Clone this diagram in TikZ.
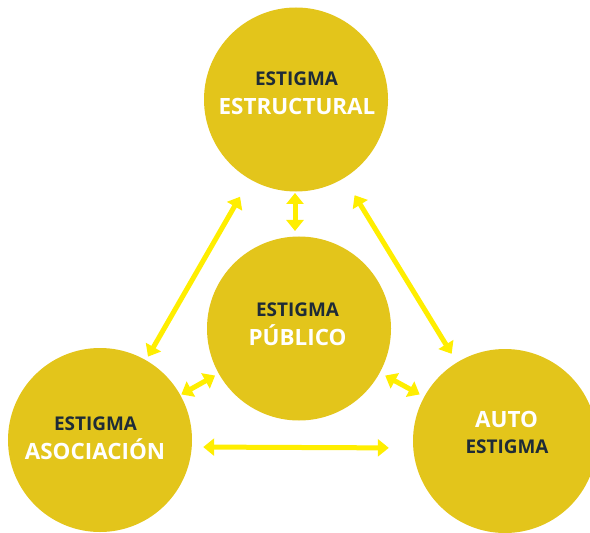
\documentclass[tikz,border=0pt]{standalone}
\usepackage{fontspec}
\setmainfont{Open Sans}
\usetikzlibrary{arrows.meta}
\definecolor{circfill}{HTML}{E3C51B}
\definecolor{arrcol}{HTML}{FFEE00}
\definecolor{darktxt}{HTML}{1E2B37}
\tikzset{
  bubble/.style={circle, fill=circfill, draw=none, minimum size=184bp, inner sep=0pt},
  arr/.style={draw=arrcol, line width=5bp, {Triangle[width=17bp,length=11bp]}-{Triangle[width=17bp,length=11bp]}},
  darkline/.style={anchor=base, text=darktxt, font=\bfseries\fontsize{19}{22}\selectfont, inner sep=0pt},
  whiteline/.style={anchor=base, text=white, font=\bfseries\fontsize{22.5}{26}\selectfont, inner sep=0pt}
}
\begin{document}
\begin{tikzpicture}[x=1bp, y=-1bp]
\useasboundingbox (0,0) rectangle (590,533);
\clip (0,0) rectangle (590,533);
\node[bubble] (est) at (296,99.5) {};
\node[bubble] (pub) at (299,328.5) {};
\node[bubble] (aso) at (100,440) {};
\node[bubble] (auto) at (505,441) {};

\node[darkline] (t1) at (296.5,86) {ESTIGMA};
\node[whiteline] (t2) at (297,115) {ESTRUCTURAL};
\node[darkline] (c1) at (297.5,316) {ESTIGMA};
\node[whiteline] (c2) at (297.5,345) {PÚBLICO};
\node[darkline] (l1) at (95.5,430) {ESTIGMA};
\node[whiteline] (l2) at (95,459) {ASOCIACIÓN};
\node[whiteline] (r1) at (506.5,427) {AUTO};
\node[darkline] (r2) at (507,453) {ESTIGMA};

\coordinate (vt) at (295,193);
\coordinate (vb) at (295,231);
\draw[arr] (vt) -- (vb);
\draw[arr, shorten <=20bp, shorten >=4bp] (est) -- (aso);
\draw[arr, shorten <=20bp, shorten >=10bp] (est) -- (auto);
\draw[arr, shorten <=4bp, shorten >=1bp] (pub) -- (aso);
\draw[arr, shorten <=6bp, shorten >=5bp] (pub) -- (auto);
\draw[arr, shorten <=11bp, shorten >=24bp] ([yshift=-7bp]aso.east) -- ([yshift=-7bp]auto.west);
\end{tikzpicture}
\end{document}
